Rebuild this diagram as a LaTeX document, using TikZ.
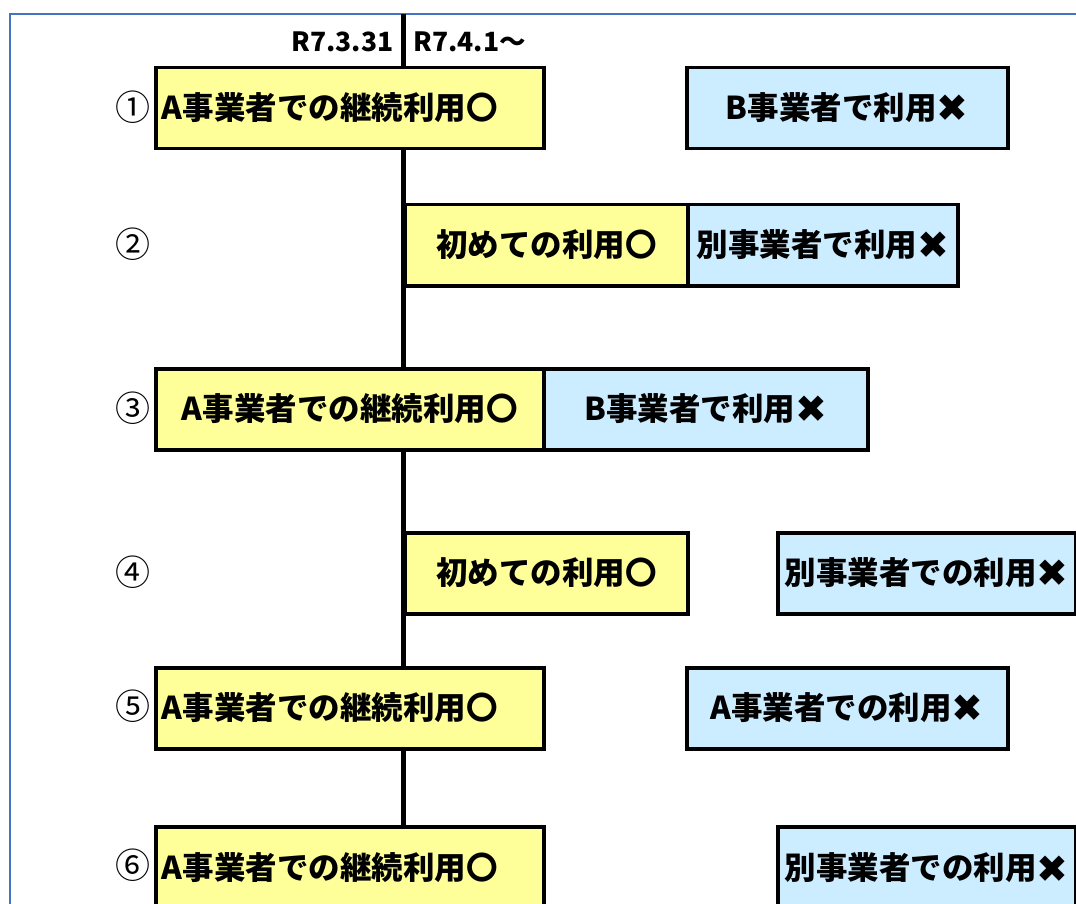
\documentclass[tikz,border=0pt]{standalone}
\usepackage{fontspec}
\newfontfamily\jp{Noto Sans CJK JP}
\newfontfamily\dv{DejaVu Sans}
\definecolor{yel}{RGB}{255,255,153}
\definecolor{blu}{RGB}{204,236,255}
\definecolor{framecol}{RGB}{68,114,196}
\newcommand\batu{\raisebox{-2.5pt}{\dv\fontsize{38}{38}\selectfont ✖}}
\begin{document}
\begin{tikzpicture}[x=1pt,y=-1pt,
  box/.style={draw=black, line width=3.5pt, minimum height=81pt, text height=26pt, text depth=4pt, inner sep=0pt, anchor=north west,
    font=\jp\bfseries\fontsize{31.5}{31.5}\selectfont},
  ybox/.style={box, fill=yel},
  bbox/.style={box, fill=blu},
  lbox/.style={ybox, minimum width=388pt, text width=376pt, inner xsep=6pt, align=left},
  num/.style={font=\jp\fontsize{35}{35}\selectfont},
  datelbl/.style={font=\jp\bfseries\fontsize{26.5}{26.5}\selectfont}]
\useasboundingbox (0,0) rectangle (1076,904);
\clip (0,0) rectangle (1076,904);
% frame
\coordinate (fbl) at (10,910);
\coordinate (ftl) at (10,14);
\coordinate (ftr) at (1080,14);
\draw[framecol, line width=1.5pt] (fbl) -- (ftl) -- (ftr);
% time line
\coordinate (ltop) at (403,14);
\coordinate (lbot) at (403,910);
\draw[black, line width=5pt] (ltop) -- (lbot);
% dates
\node[datelbl, anchor=east] (d1) at (397,42) {R7.3.31};
\node[datelbl, anchor=west] (d2) at (410,42) {R7.4.1～};
% row 1
\node[num] (n1) at (133,107) {①};
\node[lbox] (y1) at (154,66) {A事業者での継続利用〇};
\node[bbox, minimum width=321pt] (b1) at (685,66) {B事業者で利用\batu};
% row 2
\node[num] (n2) at (133,244) {②};
\node[ybox, minimum width=283pt] (y2) at (403,203) {初めての利用〇};
\node[bbox, minimum width=270pt] (b2) at (686,203) {別事業者で利用\batu};
% row 3
\node[num] (n3) at (133,408) {③};
\node[ybox, minimum width=388pt] (y3) at (154,367) {A事業者での継続利用〇};
\node[bbox, minimum width=324pt] (b3) at (542,367) {B事業者で利用\batu};
% row 4
\node[num] (n4) at (133,572) {④};
\node[ybox, minimum width=283pt] (y4) at (403,531) {初めての利用〇};
\node[bbox, minimum width=298pt] (b4) at (776,531) {別事業者での利用\batu};
% row 5
\node[num] (n5) at (133,706) {⑤};
\node[lbox] (y5) at (154,666) {A事業者での継続利用〇};
\node[bbox, minimum width=321pt] (b5) at (685,666) {A事業者での利用\batu};
% row 6
\node[num] (n6) at (133,865) {⑥};
\node[lbox, minimum height=84pt] (y6) at (154,825) {A事業者での継続利用〇};
\node[bbox, minimum width=298pt, minimum height=84pt] (b6) at (776,825) {別事業者での利用\batu};
\end{tikzpicture}
\end{document}
